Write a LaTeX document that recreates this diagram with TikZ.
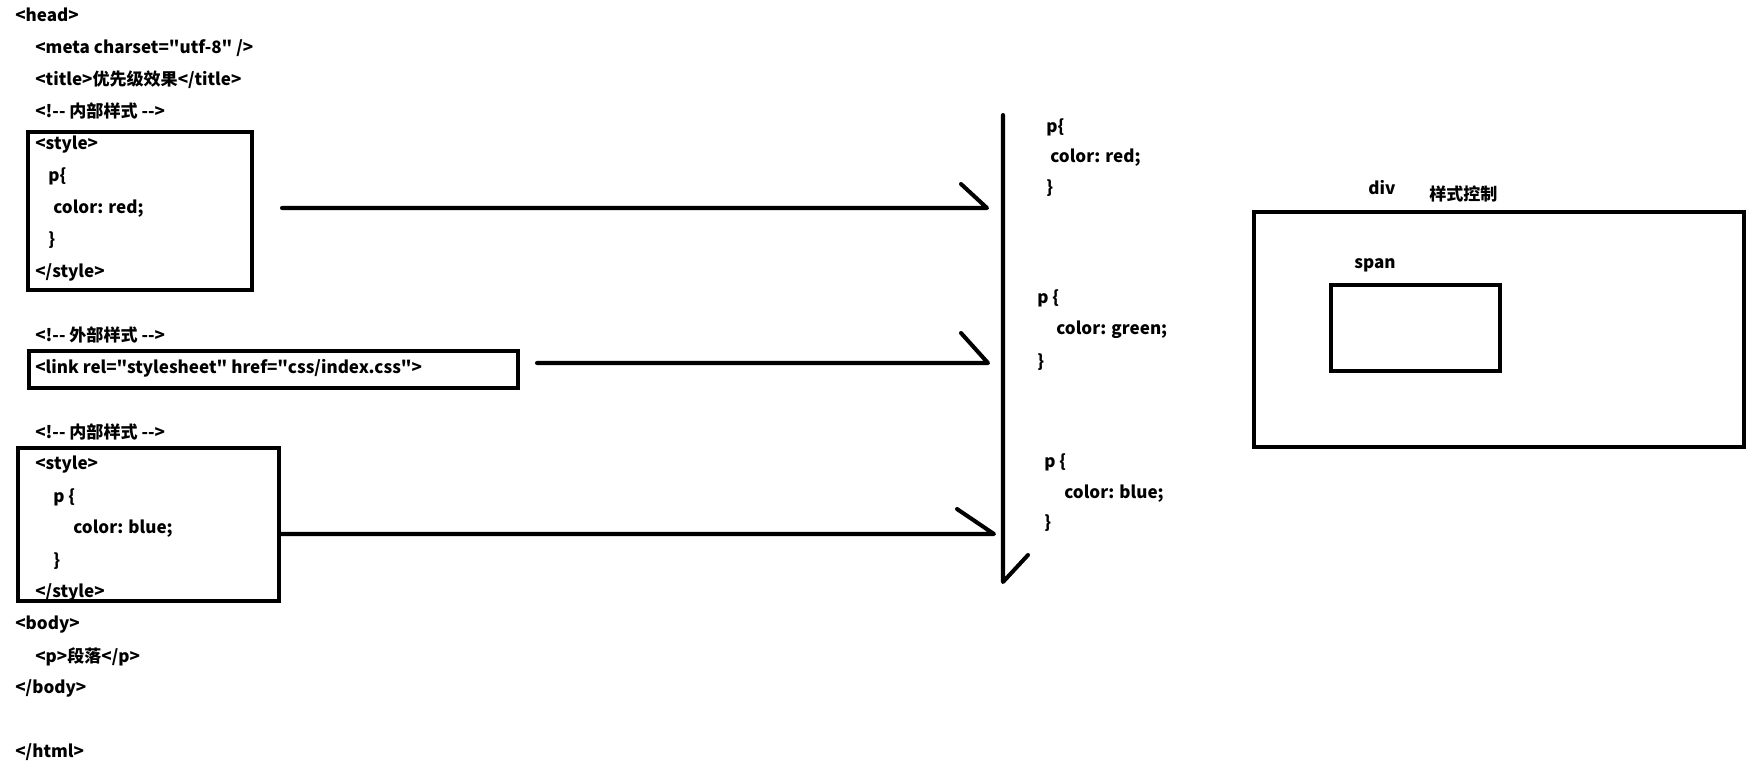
\documentclass[tikz,border=0pt]{standalone}
\usepackage{fontspec}
\setmainfont{Noto Sans CJK SC}[Ligatures=TeXOff]
\usetikzlibrary{positioning}

\tikzset{
  code/.style={anchor=west, inner sep=0pt, text height=1.6ex, text depth=0.45ex,
    font=\bfseries\fontsize{9.7}{12}\selectfont},
  pen/.style={line width=2.3pt, line cap=round, line join=round},
  frame/.style={draw, line width=2.4pt, inner sep=0pt},
}

\begin{document}
\begin{tikzpicture}[x=0.02cm, y=-0.02cm]
  \useasboundingbox (0,0) rectangle (1759,770);

  % HTML source on the left
  \node[code] (head) at (15,16) {<head>};
  \node[code] (meta) at (35,48) {<meta charset="utf-8" />};
  \node[code] (title) at (35,80) {<title>优先级效果</title>};
  \node[code] (cmtA) at (35,112) {<!-- 内部样式 -->};

  % first internal style
  \node[frame, minimum width=4.48cm, minimum height=3.16cm] (styleA) at (140,211) {};
  \node[code] (openA) at (35,144) {<style>};
  \node[code] (selA) at (48,176) {p\{};
  \node[code] (ruleA) at (53,208) {color: red;};
  \node[code] (endA) at (48,240) {\}};
  \node[code] (closeA) at (35,272) {</style>};

  % external style
  \node[code] (cmtB) at (35,336) {<!-- 外部样式 -->};
  \node[frame, minimum width=9.78cm, minimum height=0.74cm] (linkB) at (273.5,369.5) {};
  \node[code] (link) at (35,368) {<link rel="stylesheet" href="css/index.css">};

  % second internal style
  \node[code] (cmtC) at (35,433) {<!-- 内部样式 -->};
  \node[frame, minimum width=5.22cm, minimum height=3.06cm] (styleC) at (148.5,524.5) {};
  \node[code] (openC) at (35,464) {<style>};
  \node[code] (selC) at (53,497) {p \{};
  \node[code] (ruleC) at (73,528) {color: blue;};
  \node[code] (endC) at (53,561) {\}};
  \node[code] (closeC) at (35,592) {</style>};

  \node[code] (body) at (15,624) {<body>};
  \node[code] (para) at (35,657) {<p>段落</p>};
  \node[code] (endbody) at (15,688) {</body>};
  \node[code] (html) at (15,752) {</html>};

  % cascade bar
  \coordinate (bar top) at (1003,115);
  \coordinate (bar bot) at (1003,582);
  \coordinate (bar end) at (1028,555);
  \draw[pen] (bar top) -- (bar bot) -- (bar end);

  % arrows into the bar
  \coordinate (tailA) at (282,208);
  \coordinate (tipA) at (987,208);
  \coordinate (tailB) at (537,363);
  \coordinate (tipB) at (988,363);
  \coordinate (tipC) at (994,534);
  \draw[pen] (tailA) -- (tipA) -- ++(-26,-24);
  \draw[pen] (tailB) -- (tipB) -- ++(-27,-30);
  \draw[pen] (styleC.east |- tipC) -- (tipC) -- ++(-37,-25);

  % rules after the bar
  \node[code] (resA) at (1046,127) {p\{};
  \node[code] (resA2) at (1050,157) {color: red;};
  \node[code] (resA3) at (1046,188) {\}};
  \node[code] (resB) at (1037,298) {p \{};
  \node[code] (resB2) at (1056,329) {color: green;};
  \node[code] (resB3) at (1037,362) {\}};
  \node[code] (resC) at (1044,462) {p \{};
  \node[code] (resC2) at (1064,493) {color: blue;};
  \node[code] (resC3) at (1044,523) {\}};

  % div / span
  \node[frame, minimum width=9.8cm, minimum height=4.7cm] (div) at (1499,329.5) {};
  \node[frame, minimum width=3.38cm, minimum height=1.72cm] (span) at (1415.5,328) {};
  \node[code] (divlbl) at (1368,189) {div};
  \node[code] (ctrl) at (1429,195) {样式控制};
  \node[code] (spanlbl) at (1354,263) {span};
\end{tikzpicture}
\end{document}
